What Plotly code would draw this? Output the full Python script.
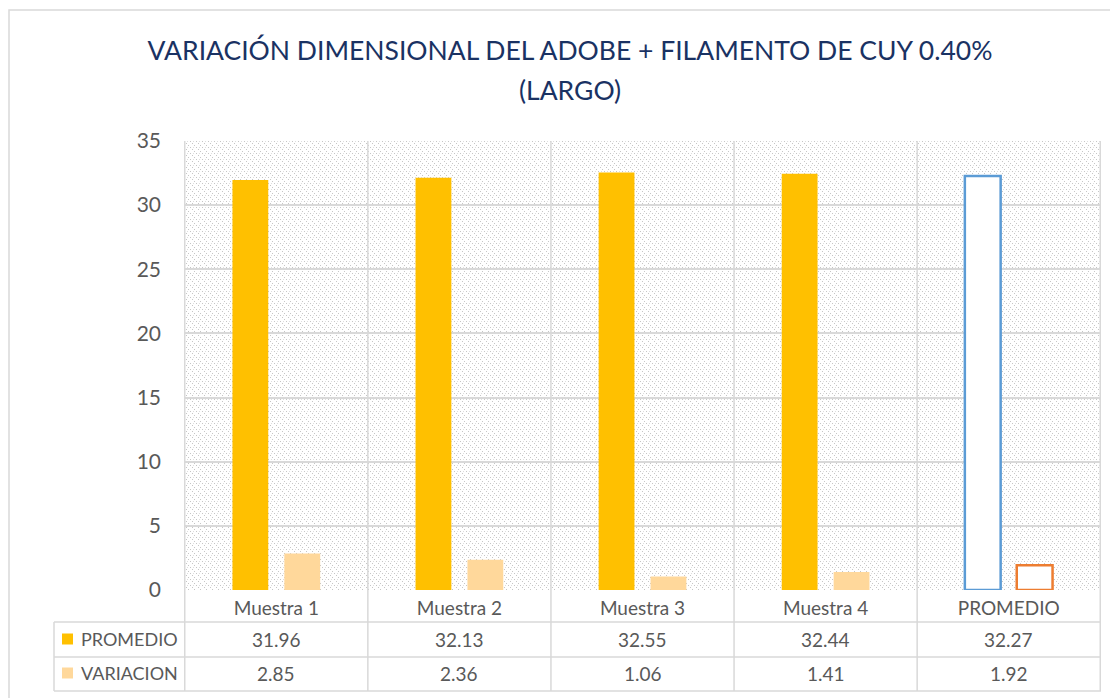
import base64
import plotly.graph_objects as go

categorias = ["Muestra 1", "Muestra 2", "Muestra 3", "Muestra 4", "PROMEDIO"]
promedio = [31.96, 32.13, 32.55, 32.44, 32.27]
variacion = [2.85, 2.36, 1.06, 1.41, 1.92]
y_ticks = [0, 5, 10, 15, 20, 25, 30, 35]

GOLD = "#FFC000"
PEACH = "#FFD89B"
BLUE = "#5B9BD5"
ORANGE = "#ED7D31"
GRID = "#d9d9d9"
TXT = "#595959"
NAVY = "#1A3263"
FONT = "Lato"

# page body has an 8px margin, so the figure is 8px smaller and shifted
OFF = 8
W, H = 1118 - OFF, 698 - OFF
L, T = 184 - OFF, 141 - OFF
R, B = W - (1101 - OFF), H - (590 - OFF)
PW, PH = W - L - R, H - T - B


def py(px):
    # screen pixel row -> paper y
    return ((590 - px)) / PH


def pxx(px):
    return (px - 184) / PW


n = len(categorias)
fig = go.Figure()
fig.add_trace(go.Bar(
    x=categorias, y=promedio, name="PROMEDIO",
    marker=dict(color=[GOLD] * (n - 1) + ["white"],
                line=dict(color=[GOLD] * (n - 1) + [BLUE], width=[0] * (n - 1) + [2.5])),
))
fig.add_trace(go.Bar(
    x=categorias, y=variacion, name="VARIACION",
    marker=dict(color=[PEACH] * (n - 1) + ["white"],
                line=dict(color=[PEACH] * (n - 1) + [ORANGE], width=[0] * (n - 1) + [2.5])),
))

# hatched background of the plot area
svg = (
    f'<svg xmlns="http://www.w3.org/2000/svg" width="{PW}" height="{PH}" viewBox="0 0 {PW} {PH}" preserveAspectRatio="none">'
    '<defs><pattern id="p" patternUnits="userSpaceOnUse" width="6" height="6">'
    '<rect x="0" y="0" width="1" height="1" fill="#c6c6c6"/>'
    '<rect x="2" y="2" width="1" height="1" fill="#c6c6c6"/>'
    '<rect x="4" y="4" width="1" height="1" fill="#c6c6c6"/>'
    '<rect x="3" y="0" width="1" height="1" fill="#dedede"/>'
    '</pattern></defs>'
    f'<rect width="{PW}" height="{PH}" fill="url(#p)"/></svg>'
)
src = "data:image/svg+xml;base64," + base64.b64encode(svg.encode()).decode()

shapes = []
# outer chart border
shapes.append(dict(type="rect", xref="paper", yref="paper", x0=pxx(9), x1=pxx(1140),
                   y0=py(720), y1=py(10), line=dict(color=GRID, width=1.5)))
# table lines
for r in [622, 657, 691]:
    shapes.append(dict(type="line", xref="paper", yref="paper", x0=pxx(54), x1=1,
                       y0=py(r), y1=py(r), line=dict(color=GRID, width=1.5)))
shapes.append(dict(type="line", xref="paper", yref="paper", x0=pxx(54), x1=pxx(54),
                   y0=py(691), y1=py(622), line=dict(color=GRID, width=1.5)))
for i in range(n + 1):
    shapes.append(dict(type="line", xref="x", yref="paper", x0=i - 0.5, x1=i - 0.5,
                       y0=py(691), y1=1, line=dict(color=GRID, width=1.5)))
# legend keys in table
for (yc, col) in [(639, GOLD), (673, PEACH)]:
    shapes.append(dict(type="rect", xref="paper", yref="paper", x0=pxx(62), x1=pxx(73),
                       y0=py(yc + 5.5), y1=py(yc - 5.5), fillcolor=col, line=dict(width=0)))

annotations = [
    dict(text="(LARGO)", xref="paper", yref="paper", x=pxx(570), y=py(90),
         xanchor="center", yanchor="middle", showarrow=False,
         font=dict(family=FONT, size=26.5, color=NAVY)),
]
for label, yc in [("PROMEDIO", 639), ("VARIACION", 673)]:
    annotations.append(dict(text=label, xref="paper", yref="paper", x=pxx(79), y=py(yc),
                            xanchor="left", yanchor="middle", showarrow=False,
                            font=dict(family=FONT, size=18, color=TXT)))
for i, c in enumerate(categorias):
    annotations.append(dict(text=f"{promedio[i]:.2f}", xref="x", yref="paper", x=c, y=py(639),
                            xanchor="center", yanchor="middle", showarrow=False,
                            font=dict(family=FONT, size=19, color=TXT)))
    annotations.append(dict(text=f"{variacion[i]:.2f}", xref="x", yref="paper", x=c, y=py(673),
                            xanchor="center", yanchor="middle", showarrow=False,
                            font=dict(family=FONT, size=19, color=TXT)))

fig.update_layout(
    width=W, height=H,
    margin=dict(l=L, r=R, t=T, b=B),
    paper_bgcolor="white", plot_bgcolor="white",
    barmode="group", bargap=0.433, bargroupgap=0.31,
    showlegend=False,
    title=dict(text="VARIACIÓN DIMENSIONAL DEL ADOBE + FILAMENTO DE CUY 0.40%",
               x=(570 - OFF) / W, xref="container", xanchor="center",
               y=1 - (51 - OFF) / H, yanchor="middle",
               font=dict(family=FONT, size=26.5, color=NAVY)),
    font=dict(family=FONT, color=TXT),
    images=[dict(source=src, xref="paper", yref="paper", x=0, y=1, sizex=1, sizey=1,
                 xanchor="left", yanchor="top", sizing="stretch", layer="below")],
    shapes=shapes,
    annotations=annotations,
    xaxis=dict(showgrid=False, showline=False, ticks="", tickfont=dict(size=19, color=TXT),
               ticklabelstandoff=5),
    yaxis=dict(range=[0, 35], tickvals=y_ticks, showgrid=True, gridcolor=GRID, gridwidth=1.5,
               zeroline=False, showline=False, ticks="", tickfont=dict(size=21, color=TXT),
               ticklabelstandoff=22),
)

fig.write_html("out.html")
